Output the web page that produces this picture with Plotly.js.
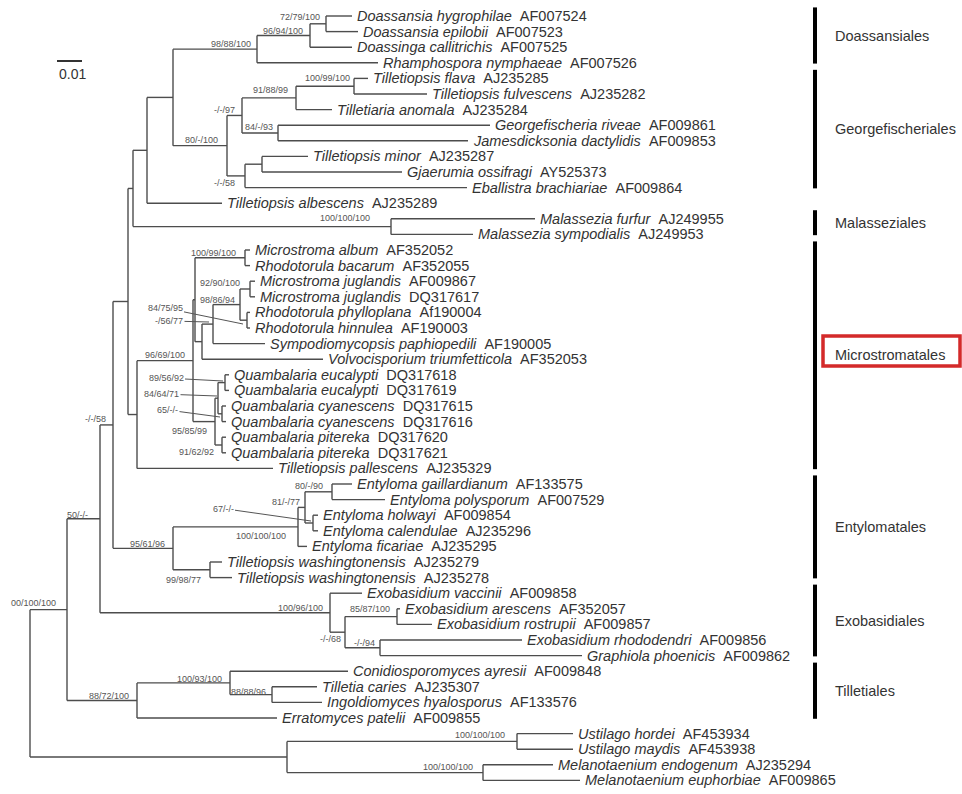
<!DOCTYPE html>
<html><head><meta charset="utf-8">
<script src="https://cdn.plot.ly/plotly-3.0.1.min.js"></script>
<style>html,body{margin:0;padding:0;background:#fff}#chart{width:962px;height:794px}</style>
</head><body><div id="chart"></div>
<script>
// ---------- DATA ----------
const taxa = ['Doassansia hygrophilae','Doassansia epilobii','Doassinga callitrichis','Rhamphospora nymphaeae',
 'Tilletiopsis flava','Tilletiopsis fulvescens','Tilletiaria anomala','Georgefischeria riveae','Jamesdicksonia dactylidis',
 'Tilletiopsis minor','Gjaerumia ossifragi','Eballistra brachiariae','Tilletiopsis albescens','Malassezia furfur',
 'Malassezia sympodialis','Microstroma album','Rhodotorula bacarum','Microstroma juglandis','Microstroma juglandis',
 'Rhodotorula phylloplana','Rhodotorula hinnulea','Sympodiomycopsis paphiopedili','Volvocisporium triumfetticola',
 'Quambalaria eucalypti','Quambalaria eucalypti','Quambalaria cyanescens','Quambalaria cyanescens','Quambalaria pitereka',
 'Quambalaria pitereka','Tilletiopsis pallescens','Entyloma gaillardianum','Entyloma polysporum','Entyloma holwayi',
 'Entyloma calendulae','Entyloma ficariae','Tilletiopsis washingtonensis','Tilletiopsis washingtonensis',
 'Exobasidium vaccinii','Exobasidium arescens','Exobasidium rostrupii','Exobasidium rhododendri','Graphiola phoenicis',
 'Conidiosporomyces ayresii','Tilletia caries','Ingoldiomyces hyalosporus','Erratomyces patelii','Ustilago hordei',
 'Ustilago maydis','Melanotaenium endogenum','Melanotaenium euphorbiae'];
const accessions = ['AF007524','AF007523','AF007525','AF007526','AJ235285','AJ235282','AJ235284','AF009861','AF009853',
 'AJ235287','AY525373','AF009864','AJ235289','AJ249955','AJ249953','AF352052','AF352055','AF009867','DQ317617',
 'Af190004','AF190003','AF190005','AF352053','DQ317618','DQ317619','DQ317615','DQ317616','DQ317620','DQ317621',
 'AJ235329','AF133575','AF007529','AF009854','AJ235296','AJ235295','AJ235279','AJ235278','AF009858','AF352057',
 'AF009857','AF009856','AF009862','AF009848','AJ235307','AF133576','AF009855','AF453934','AF453938','AJ235294','AF009865'];
// distance from root to each tip (substitutions/site)
const tipDepth = [0.1288,0.1312,0.1288,0.1392,0.1352,0.1588,0.1208,0.1840,0.1752,0.1112,0.1488,0.1748,0.0768,0.2020,
 0.1772,0.0880,0.0880,0.0900,0.0900,0.0880,0.0880,0.0940,0.1172,0.0796,0.0796,0.0784,0.0784,0.0784,0.0784,0.0972,
 0.1288,0.1420,0.1152,0.1152,0.1108,0.0768,0.0808,0.1328,0.1480,0.1608,0.1968,0.2208,0.1272,0.1148,0.1168,0.0988,
 0.2172,0.2172,0.2092,0.2200];
// internal nodes: children (number = tip index, string = node id), depth, support (NJ/MP/Bayes)
const nodeIds = ['doa3','doa2','doa1','geo5','geo4','geo6','geo3','geo8','geo7','geo2','top2','top1','mal','top0',
 'ma','me','mf','mef','ms','mv','mab','q1','q2','q3','q4','q5','micro','mp','mid1','e2','e3','e1','e0','tw','ent',
 'mid2','x2','x3','x1','x0','b','t2','t1','t0','a','u1','u2','u0','root'];
const nodeChildren = [[0,1],['doa3',2],['doa2',3],[4,5],['geo5',6],[7,8],['geo4','geo6'],[9,10],['geo8',11],
 ['geo3','geo7'],['doa1','geo2'],['top2',12],[13,14],['top1','mal'],
 [15,16],[17,18],[19,20],['me','mf'],['mef',21],['ms',22],['ma','mv'],[23,24],[25,26],['q1','q2'],[27,28],['q3','q4'],
 ['mab','q5'],['micro',29],['top0','mp'],[30,31],[32,33],['e2','e3'],['e1',34],[35,36],['e0','tw'],
 ['mid1','ent'],[38,39],[40,41],['x2','x3'],[37,'x1'],['mid2','x0'],[43,44],[42,'t2'],['t1',45],['b','t0'],
 [46,47],[48,49],['u1','u2'],['a','u0']];
const nodeDepth = [0.1184,0.1120,0.0908,0.1296,0.1064,0.0992,0.0848,0.0928,0.0860,0.0788,0.0572,0.0468,0.1444,0.0412,
 0.0860,0.0880,0.0868,0.0840,0.0732,0.0688,0.0660,0.0780,0.0768,0.0752,0.0768,0.0740,0.0652,0.0428,0.0392,
 0.1208,0.1132,0.1100,0.1072,0.0720,0.0572,0.0332,0.1468,0.1400,0.1260,0.1200,0.0280,0.0968,0.0800,0.0428,0.0148,
 0.1948,0.1812,0.1028,0];
const nodeSupport = ['72/79/100','96/94/100','98/88/100','100/99/100','91/88/99','84/-/93','-/-/97','','-/-/58',
 '80/-/100','','','100/100/100','','100/99/100','92/90/100','84/75/95','98/86/94','-/56/77','','','89/56/92','65/-/-',
 '84/64/71','91/62/92','95/85/99','96/69/100','','','80/-/90','67/-/-','81/-/77','100/100/100','99/98/77','95/61/96',
 '-/-/58','85/87/100','-/-/94','-/-/68','100/96/100','50/-/-','88/88/96','100/93/100','88/72/100','00/100/100',
 '100/100/100','100/100/100','',''];
const cladeNames = ['Doassansiales','Georgefischeriales','Malasseziales','Microstromatales','Entylomatales','Exobasidiales','Tilletiales'];
const cladeFirstTip = [0,4,13,15,30,37,42];
const cladeLastTip  = [3,11,14,29,36,41,45];
const highlightedClade = 'Microstromatales';
const scaleBarLength = 0.01;

// ---------- STYLE / LAYOUT HELPERS ----------
const FONT = 'Liberation Sans, Arial, Helvetica, sans-serif';
const W = 962, H = 794;
const ROOT_PX = 30, PX_PER_UNIT = 2500;
const TOP_PX = 16, ROW_PX = 15.6;
const labelOffset = { // [dx, dy] px of label right edge / centre relative to node
 doa3:[-4,-7],doa2:[-5,-5],doa1:[-4,-5],geo5:[-2,-8],geo4:[-6,-8],geo6:[-3,-6],geo3:[-5,-5],geo7:[-8,7],geo2:[-7,-6],
 mal:[-19,-9],ma:[-7,-5],me:[-8,-6],mef:[-3,-5],q4:[-6,7],q5:[-6,9],micro:[-6,-6],mid2:[-5,-6],e2:[-7,-6],e1:[-3,-5],
 e0:[-10,9],tw:[-7,10],ent:[-6,-4],x2:[-5,-8],x3:[-3,-5],x1:[-2,7],x0:[-5,-5],b:[-10,-4],t2:[-4,-3],t1:[-6,-4],
 t0:[-6,-4],a:[-9,-7],u1:[-10,-6],u2:[-8,-6]};
const leaderOffset = { // [xshift, yshift, ax, ay]
 mf:[-4,-3.8,-78,-16], ms:[-4,2.1,-40,-1], q1:[-2,1.6,-57,-3], q3:[-1,2.2,-55.5,-2], q2:[-2,-3.2,-52.5,-7], e3:[-2,2,-88,-12.5]};

// ---------- BUILD ----------
const idx = {}; nodeIds.forEach((id,i)=>idx[id]=i);
const yCache = {};
function yOf(c){
  if (typeof c === 'number') return c;
  if (yCache[c] !== undefined) return yCache[c];
  const ch = nodeChildren[idx[c]];
  const v = (yOf(ch[0]) + yOf(ch[ch.length-1]))/2;
  yCache[c] = v; return v;
}
function xOf(c){ return typeof c === 'number' ? tipDepth[c] : nodeDepth[idx[c]]; }

const lx = [], ly = [];
nodeIds.forEach((id,i)=>{
  const ch = nodeChildren[i], d = nodeDepth[i];
  lx.push(d,d,null); ly.push(yOf(ch[0]), yOf(ch[ch.length-1]), null);
  ch.forEach(c=>{ lx.push(d, xOf(c), null); ly.push(yOf(c), yOf(c), null); });
});

const annotations = [];
taxa.forEach((t,i)=>{
  annotations.push({x: tipDepth[i], y: i, xref:'x', yref:'y', xanchor:'left', yanchor:'middle', xshift:3,
    showarrow:false, text:'<i>'+t+'</i>&nbsp;&nbsp;'+accessions[i], font:{family:FONT, size:14.5, color:'#333'}});
});
nodeIds.forEach((id,i)=>{
  const s = nodeSupport[i]; if (!s) return;
  const f = {family:FONT, size:9, color:'#555'};
  if (leaderOffset[id]) {
    const o = leaderOffset[id];
    annotations.push({x: nodeDepth[i], y: yOf(id), xref:'x', yref:'y', xshift:o[0], yshift:o[1], ax:o[2], ay:o[3],
      showarrow:true, arrowhead:0, arrowwidth:1, arrowcolor:'#555', standoff:0, text:s, font:f});
  } else {
    const o = labelOffset[id] || [-5,-6];
    annotations.push({x: nodeDepth[i], y: yOf(id), xref:'x', yref:'y', xanchor:'right', yanchor:'middle',
      xshift:o[0], yshift:-o[1], showarrow:false, text:s, font:f});
  }
});

const shapes = [];
const BAR_X = 815/W, LABEL_X = 833/W;
cladeNames.forEach((c,k)=>{
  const y0 = cladeFirstTip[k]-0.55, y1 = cladeLastTip[k]+0.05, yc = (y0+y1)/2;
  shapes.push({type:'line', xref:'paper', yref:'y', x0:BAR_X, x1:BAR_X, y0:y0, y1:y1, line:{color:'#000', width:4}});
  annotations.push({xref:'paper', yref:'y', x:LABEL_X, y:yc, xanchor:'left', yanchor:'middle', showarrow:false,
    text:c, font:{family:FONT, size:14.5, color:'#333'}});
  if (c === highlightedClade) {
    shapes.push({type:'rect', xref:'paper', yref:'y', x0:823/W, x1:960/W, ysizemode:'pixel', yanchor:yc-0.28, y0:-15, y1:15,
      line:{color:'#d42a2a', width:3.5}, fillcolor:'rgba(0,0,0,0)'});
  }
});
// scale bar
const sbX = 0.0108;
shapes.push({type:'line', xref:'x', yref:'paper', x0:sbX, x1:sbX+scaleBarLength, y0:1-61/H, y1:1-61/H, line:{color:'#333', width:2}});
annotations.push({xref:'x', yref:'paper', x:sbX, y:1-74/H, xanchor:'left', yanchor:'middle', showarrow:false,
  text:String(scaleBarLength), font:{family:FONT, size:14, color:'#333'}});

const yTop = -TOP_PX/ROW_PX, yBot = yTop + H/ROW_PX;
Plotly.newPlot('chart', [{type:'scatter', mode:'lines', x:lx, y:ly, line:{color:'#4d4d4d', width:1.4},
  hoverinfo:'skip', showlegend:false}], {
  width:W, height:H, margin:{l:0,r:0,t:0,b:0}, paper_bgcolor:'#fff', plot_bgcolor:'#fff', showlegend:false,
  xaxis:{range:[-ROOT_PX/PX_PER_UNIT, (W-ROOT_PX)/PX_PER_UNIT], visible:false, fixedrange:true},
  yaxis:{range:[yBot, yTop], visible:false, fixedrange:true},
  shapes:shapes, annotations:annotations
}, {staticPlot:true, displayModeBar:false});
</script></body></html>
